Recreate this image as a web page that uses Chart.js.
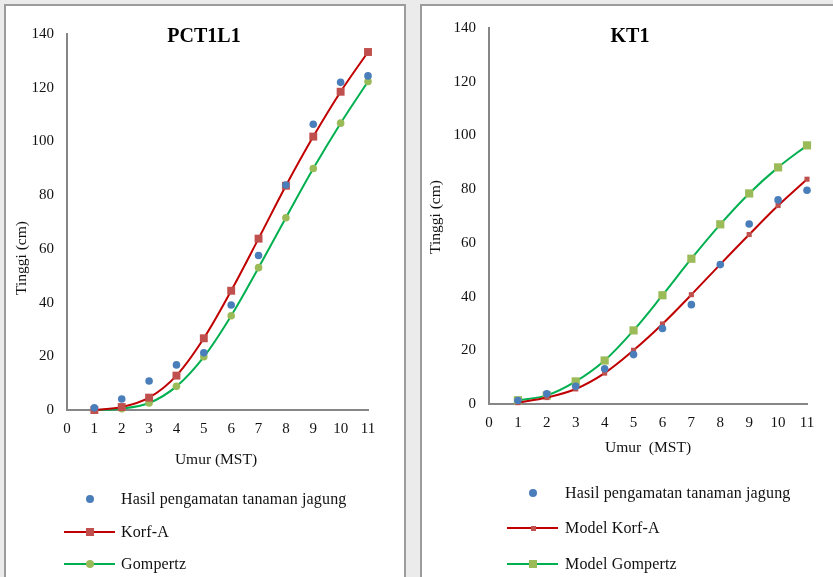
<!DOCTYPE html>
<html>
<head>
<meta charset="utf-8">
<script src="https://cdn.jsdelivr.net/npm/chart.js@4.4.0/dist/chart.umd.min.js"></script>
<style>
  body { margin: 0; background: #ebebeb; font-family: "Liberation Serif", "Times New Roman", serif; }
  .panel { position: absolute; top: 4px; background: #fff; border: 2px solid #9c9c9c; border-bottom: none; }
  canvas { display: block; }
  .leg { position: absolute; font-size: 16px; letter-spacing: 0.15px; color: #111; line-height: 18px; white-space: nowrap; }
  .leg .line { position: absolute; height: 2px; }
  .leg .mk { position: absolute; }
</style>
</head>
<body>
<div class="panel" style="left:4px; width:398px; height:573px;"><canvas id="c1" width="398" height="573"></canvas></div>
<div class="panel" style="left:420px; width:413px; height:573px; border-right:none;"><canvas id="c2" width="413" height="573"></canvas></div>
<div id="legends"></div>
<script>
// umur (minggu setelah tanam)
const weeks = [1, 2, 3, 4, 5, 6, 7, 8, 9, 10, 11];

// PCT1L1
const obs1 = [0.8, 4.1, 10.8, 16.8, 21.3, 39.1, 57.5, 83.8, 106.4, 122.0, 124.4];
const korf1 = [0.0, 1.1, 4.6, 12.8, 26.7, 44.4, 63.8, 83.5, 101.8, 118.5, 133.3];
const gomp1 = [0.0, 0.5, 2.6, 8.8, 19.8, 35.1, 53.0, 71.6, 89.9, 106.8, 122.3];

// KT1
const obs2 = [1.3, 3.8, 6.6, 13.1, 18.4, 28.1, 37.0, 51.9, 67.0, 76.0, 79.6];
const korf2 = [0.5, 2.4, 5.6, 11.5, 20.0, 29.8, 40.7, 52.0, 63.1, 73.9, 83.7];
const gomp2 = [1.4, 3.2, 8.4, 16.2, 27.4, 40.5, 54.1, 66.9, 78.4, 88.1, 96.3];

const xTicks = [0, 1, 2, 3, 4, 5, 6, 7, 8, 9, 10, 11];
const yMax = 140;

const FONT = "'Liberation Serif', 'Times New Roman', serif";
const BLUE = "#4a7ebb", RED = "#c00000", REDMK = "#c0504d", GREEN = "#00b050", GREENMK = "#9bbb59";

function pts(ys) {
  return weeks.map((w, i) => ({ x: w, y: ys[i] }));
}

// titles and axis titles drawn on the canvas
const textPlugin = {
  id: "texts",
  afterDraw(chart, args, opts) {
    const ctx = chart.ctx;
    ctx.save();
    ctx.fillStyle = "#000";
    ctx.textAlign = "center";
    ctx.textBaseline = "middle";
    ctx.font = "bold 20px " + FONT;
    ctx.fillText(opts.title, opts.tx, opts.ty);
    ctx.fillStyle = "#111";
    ctx.font = "15.5px " + FONT;
    ctx.fillText(opts.xTitle, opts.xx, opts.xy);
    ctx.translate(opts.yx, opts.yy);
    ctx.rotate(-Math.PI / 2);
    ctx.fillText("Tinggi (cm)", 0, 0);
    ctx.restore();
  }
};

function makeChart(id, o) {
  return new Chart(document.getElementById(id), {
    type: "line",
    data: {
      datasets: [
        { label: "obs", data: pts(o.obs), showLine: false, clip: false, pointStyle: "circle", pointRadius: 3.8,
          backgroundColor: BLUE, borderColor: BLUE, pointBorderWidth: 0 },
        { label: "korf", data: pts(o.korf), clip: false, borderColor: RED, borderWidth: 2, tension: 0.35,
          pointStyle: "rect", pointRadius: o.korfR, backgroundColor: REDMK, pointBackgroundColor: REDMK, pointBorderWidth: 0 },
        { label: "gomp", data: pts(o.gomp), clip: false, borderColor: GREEN, borderWidth: 2, tension: 0.35,
          pointStyle: o.gompStyle, pointRadius: o.gompR, backgroundColor: GREENMK, pointBackgroundColor: GREENMK, pointBorderWidth: 0 }
      ]
    },
    options: {
      responsive: false,
      animation: false,
      layout: { padding: { left: 0, top: o.top, right: o.right, bottom: o.bottom } },
      plugins: {
        legend: { display: false },
        tooltip: { enabled: false },
        texts: o.texts
      },
      scales: {
        x: {
          type: "linear", min: 0, max: 11,
          afterBuildTicks: s => { s.ticks = xTicks.map(v => ({ value: v })); },
          afterFit: s => { s.height = 40; },
          grid: { display: false, drawTicks: false },
          border: { display: true, color: "#868686", width: 2 },
          ticks: { padding: 10, color: "#111", font: { family: FONT, size: 15 }, maxRotation: 0, autoSkip: false }
        },
        y: {
          min: 0, max: yMax,
          ticks: { stepSize: 20, padding: 13, color: "#111", font: { family: FONT, size: 15 } },
          afterFit: s => { s.width = o.left; },
          grid: { display: false, drawTicks: false },
          border: { display: true, color: "#868686", width: 2 }
        }
      }
    },
    plugins: [textPlugin]
  });
}

makeChart("c1", {
  obs: obs1, korf: korf1, gomp: gomp1, korfR: 5.6, gompStyle: "circle", gompR: 3.8,
  left: 61, top: 28, right: 36, bottom: 129,
  texts: { title: "PCT1L1", tx: 198, ty: 31, xTitle: "Umur (MST)", xx: 210, xy: 454, yx: 16, yy: 252 }
});

makeChart("c2", {
  obs: obs2, korf: korf2, gomp: gomp2, korfR: 3.6, gompStyle: "rect", gompR: 5.8,
  left: 67, top: 20, right: 28, bottom: 135,
  texts: { title: "KT1", tx: 208, ty: 31, xTitle: "Umur  (MST)", xx: 226, xy: 442, yx: 14, yy: 211 }
});

// HTML legends (page coordinates)
const legendItems = [
  { x: 64, y: 499, text: "Hasil pengamatan tanaman jagung", line: null, mk: { c: BLUE, s: 8, round: true } },
  { x: 64, y: 532, text: "Korf-A", line: RED, mk: { c: REDMK, s: 8, round: false } },
  { x: 64, y: 564, text: "Gompertz", line: GREEN, mk: { c: GREENMK, s: 8, round: true } },
  { x: 507, y: 493, text: "Hasil pengamatan tanaman jagung", line: null, mk: { c: BLUE, s: 8, round: true } },
  { x: 507, y: 528, text: "Model Korf-A", line: RED, mk: { c: REDMK, s: 5, round: false } },
  { x: 507, y: 564, text: "Model Gompertz", line: GREEN, mk: { c: GREENMK, s: 8, round: false } }
];

const holder = document.getElementById("legends");
legendItems.forEach(it => {
  const d = document.createElement("div");
  d.className = "leg";
  d.style.left = it.x + "px";
  d.style.top = (it.y - 9) + "px";
  d.style.width = "320px";
  d.style.height = "18px";
  if (it.line) {
    const l = document.createElement("div");
    l.className = "line";
    l.style.left = "0px"; l.style.top = "8px"; l.style.width = "51px";
    l.style.background = it.line;
    d.appendChild(l);
  }
  const m = document.createElement("div");
  m.className = "mk";
  m.style.width = it.mk.s + "px"; m.style.height = it.mk.s + "px";
  m.style.left = (26 - it.mk.s / 2) + "px"; m.style.top = (9 - it.mk.s / 2) + "px";
  m.style.background = it.mk.c;
  if (it.mk.round) m.style.borderRadius = "50%";
  d.appendChild(m);
  const t = document.createElement("span");
  t.textContent = it.text;
  t.style.position = "absolute"; t.style.left = (it.x < 400 ? 57 : 58) + "px"; t.style.top = "0px";
  d.appendChild(t);
  holder.appendChild(d);
});
</script>
</body>
</html>
